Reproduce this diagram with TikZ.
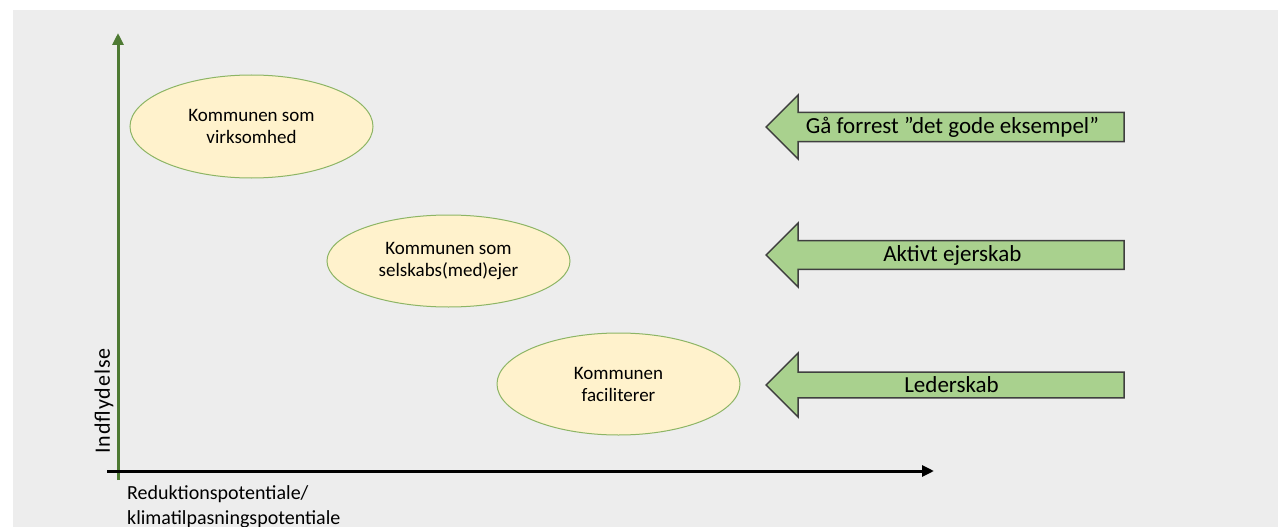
\documentclass[tikz,border=0pt]{standalone}
\usepackage{fontspec}
\setmainfont{Carlito}
\usetikzlibrary{arrows.meta,shapes.geometric,shapes.arrows,positioning}
\definecolor{bggrey}{HTML}{EDEDED}
\definecolor{axisgreen}{HTML}{4E7A33}
\definecolor{ovalfill}{HTML}{FFF2CC}
\definecolor{ovalline}{HTML}{8DB565}
\definecolor{arrowfill}{HTML}{A9D18E}
\definecolor{arrowline}{HTML}{3F3F3F}
\tikzset{
  oval/.style={ellipse, draw=ovalline, fill=ovalfill, line width=1pt, minimum width=243pt,
    inner sep=0pt, align=center, font=\fontsize{19}{22}\selectfont},
  bigarrow/.style={single arrow, shape border rotate=180, draw=arrowline, fill=arrowfill,
    line width=1.5pt, minimum width=64pt, minimum height=358pt, single arrow head extend=13pt,
    inner sep=0pt, font=\fontsize{23}{26}\selectfont, anchor=tip},
  axis/.style={line width=3pt, -{Triangle[length=12pt,width=11pt]}}
}

\begin{document}
\begin{tikzpicture}[x=1pt, y=-1pt]
    \useasboundingbox (0,0) rectangle (1278,527);
    \fill[bggrey] (13,10) rectangle (1278,527);

    % Axes
    \coordinate (ybot) at (118,480);
    \coordinate (ytop) at (118,33);
    \coordinate (xleft) at (107,471);
    \coordinate (xright) at (934,471);
    \draw[axis, axisgreen] (ybot) -- (ytop);
    \draw[axis, black] (xleft) -- (xright);
    \node[rotate=90, font=\fontsize{22}{26}\selectfont\addfontfeatures{LetterSpace=4}] (ylab) at (104,401) {Indflydelse};
    \node[anchor=north west, inner sep=0pt, align=left, font=\fontsize{20}{25}\selectfont] (xlab) at (127,485) {Reduktionspotentiale/\\klimatilpasningspotentiale};

    % Roles of the municipality
    \node[oval, minimum height=103pt] (virk) at (251.5,126.5) {Kommunen som\\virksomhed};
    \node[oval, minimum height=92pt] (ejer) at (448.5,261) {Kommunen som\\selskabs(med)ejer};
    \node[oval, minimum height=102pt] (facil) at (618.5,384) {Kommunen\\faciliterer};

    % Arrows
    \node[bigarrow] (forrest) at (765,127) {Gå forrest ”det gode eksempel”};
    \node[bigarrow] (aktiv) at (765,255) {Aktivt ejerskab};
    \node[bigarrow] (leder) at (765,385) {Lederskab};
\end{tikzpicture}
\end{document}
